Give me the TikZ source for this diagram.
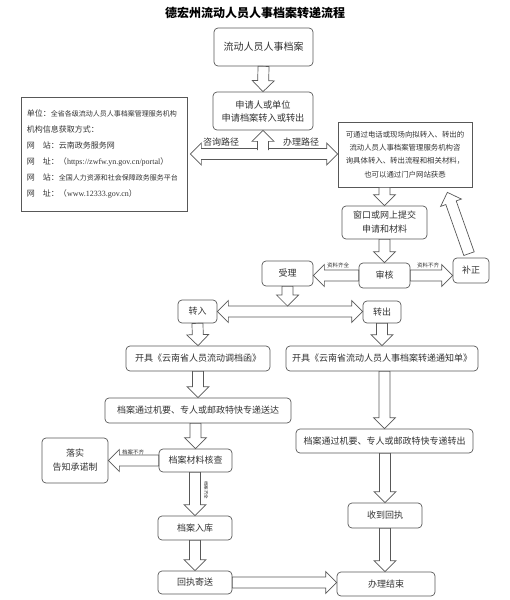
\documentclass[tikz,border=0pt]{standalone}
\usepackage{fontspec}
\setmainfont{Noto Sans CJK SC}
\newfontfamily\urlfont{Liberation Serif}
\usepackage{tikz}
\usetikzlibrary{calc}
\definecolor{linegray}{RGB}{88,88,88}
\definecolor{textgray}{RGB}{50,50,50}
\newcommand{\shafthalf}{5.5pt}
\newcommand{\headhalf}{11pt}
\newcommand{\headlen}{11pt}

\begin{document}
\begin{tikzpicture}[
    x=1pt, y=-1pt,
    every node/.style={text=textgray, font=\fontsize{9}{14}\selectfont},
    stepbox/.style={draw=linegray, line width=0.7pt, rectangle, rounded corners=4pt,
                inner sep=0pt, align=center},
    plainbox/.style={draw=linegray, line width=0.7pt, rectangle, inner sep=0pt},
    tag/.style={font=\fontsize{5.5}{6}\selectfont, inner sep=0pt},
    pathtag/.style={font=\fontsize{9}{10}\selectfont, inner sep=0pt},
    blockarrow/.style={draw=linegray, fill=white, line width=0.7pt,
      to path={($(\tikztostart)!\shafthalf!90:(\tikztotarget)$)
        -- ($(\tikztotarget)!\headlen!(\tikztostart)!\shafthalf!90:(\tikztotarget)$)
        -- ($(\tikztotarget)!\headlen!(\tikztostart)!\headhalf!90:(\tikztotarget)$)
        -- (\tikztotarget)
        -- ($(\tikztotarget)!\headlen!(\tikztostart)!\headhalf!-90:(\tikztotarget)$)
        -- ($(\tikztotarget)!\headlen!(\tikztostart)!\shafthalf!-90:(\tikztotarget)$)
        -- ($(\tikztostart)!\shafthalf!-90:(\tikztotarget)$) -- cycle}},
    openarrow/.style={draw=linegray, fill=white, line width=0.7pt,
      to path={($(\tikztostart)!\shafthalf!90:(\tikztotarget)$)
        -- ($(\tikztotarget)!\headlen!(\tikztostart)!\shafthalf!90:(\tikztotarget)$)
        -- ($(\tikztotarget)!\headlen!(\tikztostart)!\headhalf!90:(\tikztotarget)$)
        -- (\tikztotarget)
        -- ($(\tikztotarget)!\headlen!(\tikztostart)!\headhalf!-90:(\tikztotarget)$)
        -- ($(\tikztotarget)!\headlen!(\tikztostart)!\shafthalf!-90:(\tikztotarget)$)
        -- ($(\tikztostart)!\shafthalf!-90:(\tikztotarget)$)}},
    twowayarrow/.style={draw=linegray, fill=white, line width=0.7pt,
      to path={(\tikztostart)
        -- ($(\tikztostart)!\headlen!(\tikztotarget)!\headhalf!90:(\tikztotarget)$)
        -- ($(\tikztostart)!\headlen!(\tikztotarget)!\shafthalf!90:(\tikztotarget)$)
        -- ($(\tikztotarget)!\headlen!(\tikztostart)!\shafthalf!90:(\tikztotarget)$)
        -- ($(\tikztotarget)!\headlen!(\tikztostart)!\headhalf!90:(\tikztotarget)$)
        -- (\tikztotarget)
        -- ($(\tikztotarget)!\headlen!(\tikztostart)!\headhalf!-90:(\tikztotarget)$)
        -- ($(\tikztotarget)!\headlen!(\tikztostart)!\shafthalf!-90:(\tikztotarget)$)
        -- ($(\tikztostart)!\headlen!(\tikztotarget)!\shafthalf!-90:(\tikztotarget)$)
        -- ($(\tikztostart)!\headlen!(\tikztotarget)!\headhalf!-90:(\tikztotarget)$) -- cycle}}
  ]
    \useasboundingbox (0,0) rectangle (509,600);

    % Title
    \node[font=\bfseries\fontsize{12}{14}\selectfont, text=black] (title) at (255,13) {德宏州流动人员人事档案转递流程};

    % Top
    \node[stepbox, minimum width=99, minimum height=38, font=\fontsize{10}{13}\selectfont] (archive) at (263.5,47) {流动人员人事档案};
    \node[stepbox, minimum width=100, minimum height=38, font=\fontsize{9.2}{13}\selectfont] (apply) at (263,111) {申请人或单位\\申请档案转入或转出};

    % Consult and handle routes
    \node[plainbox, minimum width=166, minimum height=114, text width=154, align=left,
          font=\fontsize{8}{16}\selectfont] (info) at (104,154) {%
      单位：{\fontsize{7}{16}\selectfont 全省各级流动人员人事档案管理服务机构}\\
      机构信息获取方式：\\
      网　站：云南政务服务网\\
      网　址：（{\urlfont https://zwfw.yn.gov.cn/portal}）\\
      网　站：{\fontsize{7}{16}\selectfont 全国人力资源和社会保障政务服务平台}\\
      网　址：（{\urlfont www.12333.gov.cn}）};
    \node[plainbox, minimum width=134, minimum height=65, align=center,
          font=\fontsize{7.4}{13.3}\selectfont] (route) at (405,154.5) {%
      可通过电话或现场向拟转入、转出的\\
      流动人员人事档案管理服务机构咨\\
      询具体转入、转出流程和相关材料，\\
      也可以通过门户网站获悉};

    % Review
    \node[stepbox, minimum width=85, minimum height=33] (window) at (384.5,222.5) {窗口或网上提交\\申请和材料};
    \node[stepbox, minimum width=51, minimum height=25] (review) at (384.5,275.5) {审核};
    \node[stepbox, minimum width=51, minimum height=25] (accept) at (287.5,273.5) {受理};
    \node[stepbox, minimum width=36, minimum height=25] (amend) at (471,270.5) {补正};

    % Two branches
    \node[stepbox, minimum width=39, minimum height=23] (transin) at (197.5,311.5) {转入};
    \node[stepbox, minimum width=38, minimum height=22] (transout) at (382,312) {转出};
    \node[stepbox, minimum width=144, minimum height=25] (letterin) at (198,358.5) {开具《云南省人员流动调档函》};
    \node[stepbox, minimum width=192, minimum height=25] (letterout) at (382,358.5) {开具《云南省流动人员人事档案转递通知单》};
    \node[stepbox, minimum width=186, minimum height=25] (sendin) at (198,410.5) {档案通过机要、专人或邮政特快专递送达};
    \node[stepbox, minimum width=177, minimum height=24] (sendout) at (384.5,441) {档案通过机要、专人或邮政特快专递转出};
    \node[stepbox, minimum width=73, minimum height=23] (check) at (195.5,460.5) {档案材料核查};
    \node[stepbox, minimum width=66, minimum height=45] (pledge) at (75,460.5) {落实\\告知承诺制};
    \node[stepbox, minimum width=74, minimum height=24] (store) at (195,528) {档案入库};
    \node[stepbox, minimum width=74, minimum height=25] (receipt) at (385,515.5) {收到回执};
    \node[stepbox, minimum width=74, minimum height=23] (mailback) at (195,582.5) {回执寄送};
    \node[stepbox, minimum width=98, minimum height=24] (done) at (386,584) {办理结束};

    % Arrows top
    \draw[blockarrow] (archive.south) to (apply.north);
    \coordinate (fork) at ($(apply.south |- info.east)+(0,-4)$);
    \coordinate (askend) at ($(info.east)+(3,0)$);
    \coordinate (doend) at (info.east -| route.west);
    \draw[twowayarrow] (askend) to (doend);
    \draw[openarrow] (fork) to (apply.south);
    \node[pathtag] (asklabel) at (221,142) {咨询路径};
    \node[pathtag] (dolabel) at (301,142) {办理路径};

    % Arrows review
    \draw[blockarrow] (window.north |- route.south) to (window.north);
    \draw[blockarrow] (window.south) to (review.north);
    \draw[blockarrow] (review.west) to (review.west -| accept.east);
    \node[tag] (oklabel) at (338,265) {资料齐全};
    \draw[blockarrow] (review.east) to (review.east -| amend.west);
    \node[tag] (lacklabel) at (428,265) {资料不齐};
    \coordinate (amendtail) at ($(amend.north)+(-2,-4)$);
    \coordinate (routetip) at ($(route.south east)+(-25,5)$);
    \draw[blockarrow] (amendtail) to (routetip);

    % Arrows branches
    \draw[twowayarrow] (transin.east) to (transin.east -| transout.west);
    \coordinate (splittip) at ($(accept.south |- transin.east)+(0,-5.5)$);
    \draw[blockarrow] (accept.south) to (splittip);
    \draw[blockarrow] (transin.south) to (letterin.north);
    \draw[blockarrow] (transout.south) to (transout.south |- letterout.north);
    \draw[blockarrow] (letterin.south) to (sendin.north);
    \draw[blockarrow] (sendout.north |- letterout.south) to (sendout.north);
    \draw[blockarrow] (check.north |- sendin.south) to (check.north);
    \draw[blockarrow] (check.west) to (check.west -| pledge.east);
    \node[tag] (shortlabel) at (133,452) {档案不齐};
    \draw[blockarrow] (store.north |- check.south) to (store.north);
    \node[tag, rotate=-90, font=\fontsize{4.5}{5}\selectfont] (fulllabel) at (206,490) {档案齐全};
    \draw[blockarrow] (store.south) to (mailback.north);
    \draw[blockarrow] (mailback.east) to (mailback.east -| done.west);
    \draw[blockarrow] (receipt.north |- sendout.south) to (receipt.north);
    \draw[blockarrow] (receipt.south) to (receipt.south |- done.north);
\end{tikzpicture}
\end{document}
